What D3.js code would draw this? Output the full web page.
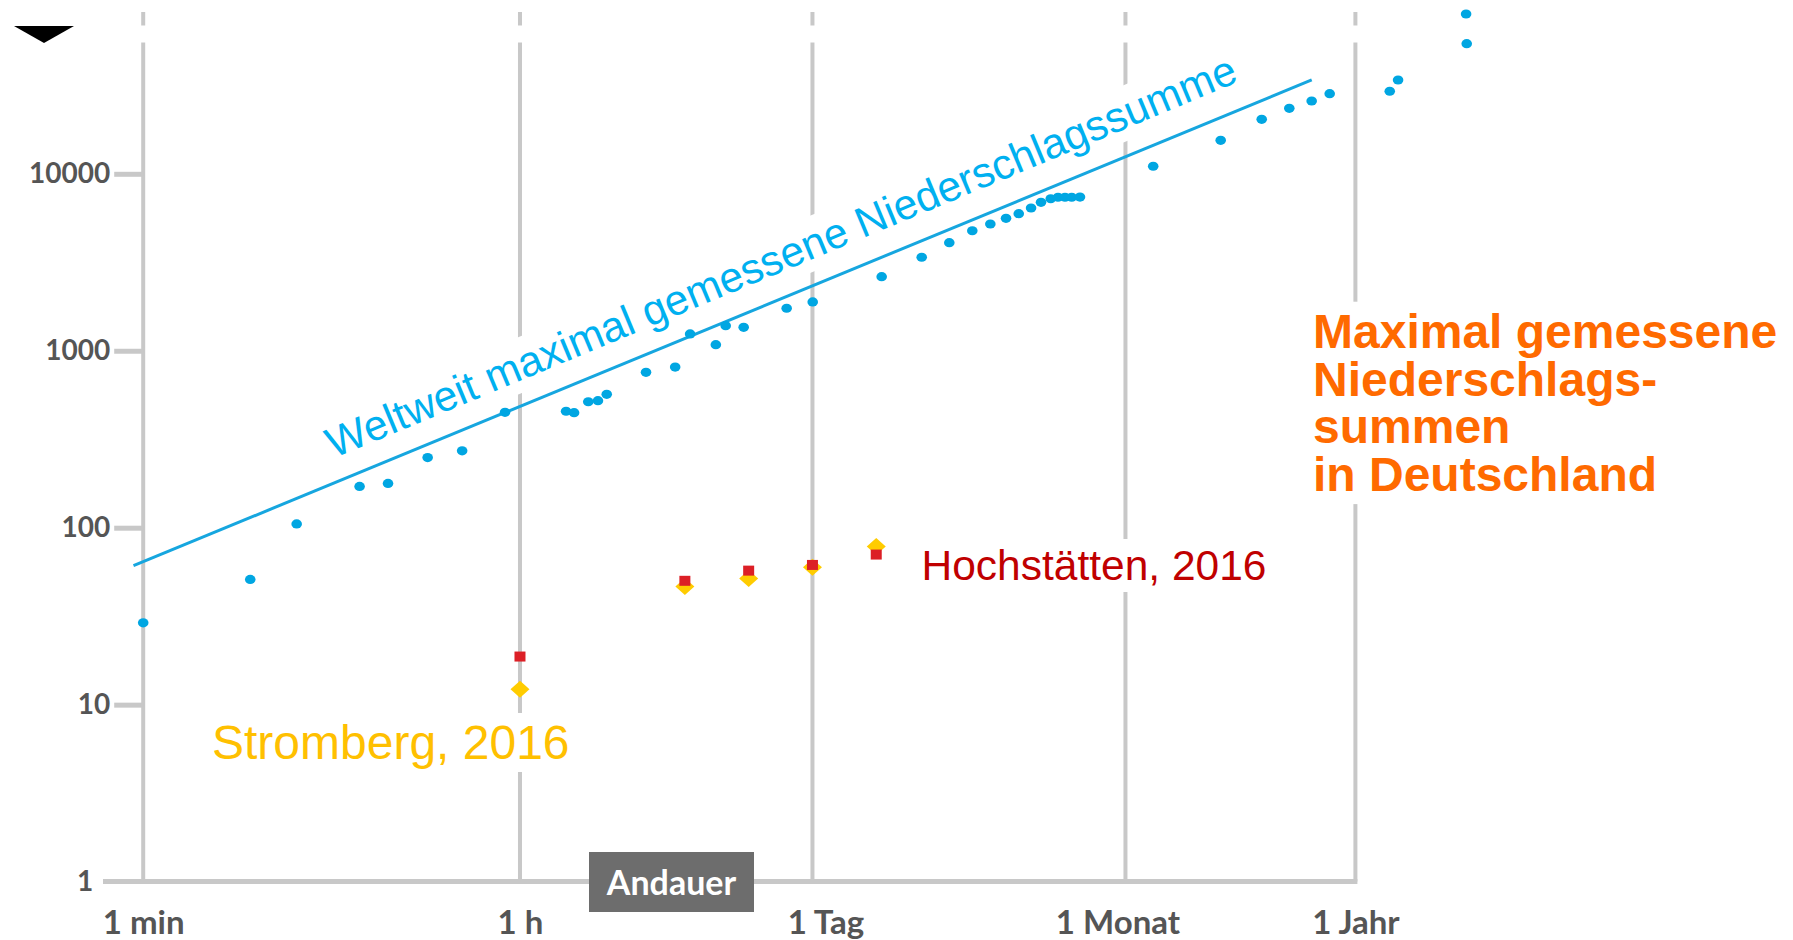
<!DOCTYPE html>
<html>
<head>
<meta charset="utf-8">
<script src="https://cdn.jsdelivr.net/npm/d3@7"></script>
<style>
  html, body { margin: 0; padding: 0; background: #fff; }
  svg { display: block; }
</style>
</head>
<body>
<svg id="chart" width="1793" height="940"></svg>
<script>
// Duration axis (minutes) and precipitation axis (mm), both logarithmic
const xTickValues = [1, 60, 1440, 43200, 525600];
const xTickLabels = ["1 min", "1 h", "1 Tag", "1 Monat", "1 Jahr"];
const yTickValues = [1, 10, 100, 1000, 10000];

// Worldwide maximum measured precipitation totals: duration (min) and amount (mm)
const worldDurMin = [1, 3.2, 5.3, 10.5, 14.3, 22, 32, 51, 99, 108, 126, 140, 154,
  236, 324, 381, 504, 561, 682, 1088, 1444, 3055, 4720, 6370, 8180, 9950, 11800,
  13550, 15490, 17260, 19180, 20760, 22400, 24090, 26360,
  58400, 121600, 189900, 256300, 326800, 397500, 763400, 835700, 1762000, 1750000];
const worldMm = [29, 51, 105, 171, 178, 249, 272, 449, 455, 447, 515, 522, 567,
  755, 809, 1244, 1082, 1386, 1357, 1738, 1888, 2623, 3375, 4080, 4767, 5204, 5606,
  5954, 6410, 6900, 7230, 7370, 7370, 7370, 7390,
  11030, 15460, 20320, 23450, 25780, 28370, 29270, 33890, 54350, 80000];

// Envelope line of the world records
const trendDurMin = [0.9, 327000];
const trendMm = [61, 33900];

// German events 2016
const germanDurMin = [60, 360, 720, 1440, 2880];
const hochstaettenMm = [18.7, 50.1, 57.2, 61.6, 70.5];
const strombergMm = [12.2, 46.5, 51.6, 59.8, 78.2];

const svg = d3.select("#chart");
const AXIS_FONT = "Lato, 'Open Sans', sans-serif";
const TEXT_FONT = "'Liberation Sans', Arial, sans-serif";
const GRID = "#c8c8c8";
const LABEL_GRAY = "#555555";

const x = d3.scaleLog().domain([1, 525600]).range([143.2, 1355.4]);
const y = d3.scaleLog().domain([1, 10000]).range([881.6, 173.8]);

// vertical grid lines at the labelled durations
svg.append("g").selectAll("line").data(xTickValues).join("line")
  .attr("x1", d => x(d)).attr("x2", d => x(d))
  .attr("y1", 12).attr("y2", y(1))
  .attr("stroke", GRID).attr("stroke-width", 4);

// white band across the top of the grid
svg.append("rect").attr("x", 100).attr("y", 25.5).attr("width", 1300).attr("height", 17)
  .attr("fill", "#fff");

// text with an opaque white box behind it
function boxedText(parent, lines, opts) {
  const g = parent.append("g").attr("transform", opts.transform || null);
  const bg = g.append("rect").attr("fill", "#fff");
  const t = g.append("text")
    .attr("font-family", opts.family || TEXT_FONT)
    .attr("font-size", opts.size)
    .attr("font-weight", opts.weight || "normal")
    .attr("fill", opts.color);
  lines.forEach((ln, i) => {
    t.append("tspan").attr("x", opts.x).attr("y", opts.y + i * (opts.lineHeight || 0)).text(ln);
  });
  const b = t.node().getBBox();
  const p = opts.pad == null ? 3 : opts.pad;
  bg.attr("x", b.x - p).attr("y", b.y - p).attr("width", b.width + 2 * p).attr("height", b.height + 2 * p);
  return g;
}

// y axis
const yAxis = d3.axisLeft(y).tickValues(yTickValues).tickFormat(d3.format("d"))
  .tickSize(29).tickPadding(5);
const gy = svg.append("g").attr("transform", `translate(${x(1)},0)`).call(yAxis);
gy.select(".domain").remove();
gy.selectAll(".tick line").attr("stroke", GRID).attr("stroke-width", 5);
gy.selectAll(".tick text")
  .attr("font-family", AXIS_FONT).attr("font-weight", 700).attr("font-size", 28)
  .attr("fill", LABEL_GRAY)
  .attr("x", d => d === 1 ? -50 : -33);
gy.selectAll(".tick").filter(d => d === 1).select("line").remove();

// x axis baseline
svg.append("line").attr("x1", 103).attr("x2", x(525600) + 2)
  .attr("y1", y(1)).attr("y2", y(1))
  .attr("stroke", GRID).attr("stroke-width", 5);

// duration labels, a few shifted slightly off their grid line
const xLabelNudge = { "1 Tag": 13, "1 Monat": -8 };
const xAxis = d3.axisBottom(x).tickValues(xTickValues)
  .tickFormat((d, i) => xTickLabels[i]).tickSize(0).tickPadding(29);
const gx = svg.append("g").attr("transform", `translate(0,${y(1)})`).call(xAxis);
gx.select(".domain").remove();
gx.selectAll(".tick text")
  .attr("font-family", AXIS_FONT).attr("font-weight", 700).attr("font-size", 33)
  .attr("fill", LABEL_GRAY)
  .attr("dx", (d, i) => xLabelNudge[xTickLabels[i]] || 0);

// axis title box
const andauer = svg.append("g");
andauer.append("rect").attr("x", 589).attr("y", 852).attr("width", 165).attr("height", 60)
  .attr("fill", "#6d6d6d");
andauer.append("text").attr("x", 671.5).attr("y", 895).attr("text-anchor", "middle")
  .attr("font-family", AXIS_FONT).attr("font-weight", 700).attr("font-size", 34)
  .attr("fill", "#fff").text("Andauer");

// annotations
const lx = x(trendDurMin[0]), ly = y(trendMm[0]);
const rx = x(trendDurMin[1]), ry = y(trendMm[1]);
const angle = Math.atan2(ry - ly, rx - lx) * 180 / Math.PI - 0.2;
const ax = x(7.9), ay = y(246);
boxedText(svg, ["Weltweit maximal gemessene Niederschlagssumme"], {
  x: 0, y: 0, size: 42.5, color: "#00b0f0",
  transform: `translate(${ax},${ay}) rotate(${angle})`
});

boxedText(svg, ["Stromberg, 2016"], { x: 212, y: 759, size: 48, color: "#ffc000" });
boxedText(svg, ["Hochstätten, 2016"], { x: 921.5, y: 580, size: 42.5, color: "#c00000" });
boxedText(svg, ["Maximal gemessene", "Niederschlags-", "summen", "in Deutschland"], {
  x: 1313, y: 347.7, size: 48, weight: "bold", color: "#ff6a00", lineHeight: 47.8
});

// envelope line
svg.append("path")
  .datum(d3.zip(trendDurMin, trendMm))
  .attr("d", d3.line().x(d => x(d[0])).y(d => y(d[1])))
  .attr("fill", "none").attr("stroke", "#16a6df").attr("stroke-width", 3);

// world record points
svg.append("g").selectAll("ellipse").data(d3.zip(worldDurMin, worldMm)).join("ellipse")
  .attr("cx", d => x(d[0])).attr("cy", d => y(d[1]))
  .attr("rx", 5.3).attr("ry", 4.6).attr("fill", "#00a6e2");

// Stromberg (diamonds) below Hochstätten (squares)
svg.append("g").selectAll("path").data(d3.zip(germanDurMin, strombergMm)).join("path")
  .attr("d", d => {
    const cx = x(d[0]), cy = y(d[1]);
    return `M${cx},${cy - 8.5}L${cx + 9.5},${cy}L${cx},${cy + 8.5}L${cx - 9.5},${cy}Z`;
  })
  .attr("fill", "#ffcc00");
svg.append("g").selectAll("rect").data(d3.zip(germanDurMin, hochstaettenMm)).join("rect")
  .attr("x", d => x(d[0]) - 5.5).attr("y", d => y(d[1]) - 5)
  .attr("width", 11).attr("height", 10).attr("fill", "#dc1f26");

// menu marker
svg.append("path").attr("d", "M14,26L74,26L44,43Z").attr("fill", "#000");
</script>
</body>
</html>
